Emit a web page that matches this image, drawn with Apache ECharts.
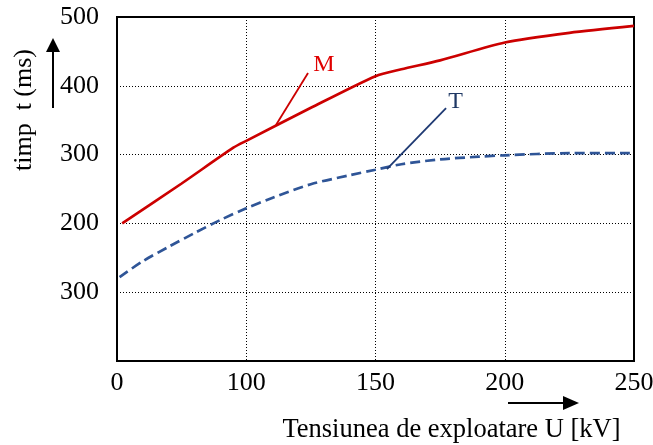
<!DOCTYPE html>
<html><head><meta charset="utf-8">
<script src="https://cdn.jsdelivr.net/npm/echarts@6/dist/echarts.min.js"></script>
<style>html,body{margin:0;padding:0;background:#fff}#c{width:653px;height:445px}</style>
</head><body><div id="c"></div>
<script>
// Data
const xM = [52, 75, 95, 100, 125, 150, 160, 175, 200, 225, 250];
const yM = [200, 258, 310, 320, 368, 414, 424, 437, 463, 477, 487];
const xT = [51, 60, 70, 80, 90, 100, 110, 125, 140, 150, 160, 175, 190, 200, 225, 250];
const yT = [122, 145, 166, 186, 205, 222, 237, 257, 270, 278, 286, 293, 297, 299, 302, 302];
const xTickValues = [50, 100, 150, 200, 250];
const xTickLabels = ['0', '100', '150', '200', '250'];
const yTickValues = [100, 200, 300, 400, 500];
const yTickLabels = ['300', '200', '300', '400', '500'];
const seriesNames = ['M', 'T'];
const leaderM = [[111.5, 343], [123.9, 418.6]];
const leaderT = [[154.4, 279], [177.3, 367.7]];
const labelPosM = [130, 430];
const labelPosT = [181, 377];

const FONT = '"Liberation Serif", "Times New Roman", serif';
const chart = echarts.init(document.getElementById('c'));
const lookup = (vals, labels) => v => { const i = vals.indexOf(v); return i < 0 ? '' : labels[i]; };

chart.setOption({
  animation: false,
  backgroundColor: '#fff',
  grid: { left: 117, right: 19, top: 17, bottom: 84, containLabel: false, outerBoundsMode: 'none',
    show: true, borderColor: '#000', borderWidth: 2, backgroundColor: 'transparent' },
  xAxis: {
    type: 'value', min: 50, max: 250, interval: 50,
    axisLine: { show: true, lineStyle: { color: '#000', width: 2 } },
    axisTick: { show: false },
    axisLabel: { formatter: lookup(xTickValues, xTickLabels), color: '#000', fontFamily: FONT, fontSize: 26, margin: 9 },
    splitLine: { show: true, lineStyle: { color: '#000', type: [1, 2], width: 1 } },
    name: 'Tensiunea de exploatare U [kV]', nameLocation: 'middle', nameGap: 56,
    nameTextStyle: { color: '#000', fontFamily: FONT, fontSize: 26.5, padding: [0, 0, 0, 152] }
  },
  yAxis: {
    type: 'value', min: 0, max: 500, interval: 100,
    axisLine: { show: true, lineStyle: { color: '#000', width: 2 } },
    axisTick: { show: false },
    axisLabel: { formatter: lookup(yTickValues, yTickLabels), color: '#000', fontFamily: FONT, fontSize: 26, margin: 18 },
    splitLine: { show: true, lineStyle: { color: '#000', type: [1, 2], width: 1 } },
    name: 'timp  t (ms)', nameLocation: 'middle', nameGap: 80, nameRotate: 90,
    nameTextStyle: { color: '#000', fontFamily: FONT, fontSize: 26, padding: [0, 0, 0, 158] }
  },
  series: [
    {
      name: seriesNames[0], type: 'line', data: xM.map((x, i) => [x, yM[i]]),
      smooth: 0.25, showSymbol: false, lineStyle: { color: '#CC0000', width: 2.7 }, z: 3,
      markLine: { silent: true, symbol: 'none', label: { show: false },
        lineStyle: { color: '#CC0000', width: 1.8, type: 'solid' },
        data: [[{ coord: leaderM[0] }, { coord: leaderM[1] }]] },
      markPoint: { symbolSize: 0, data: [{ coord: labelPosM, label: { show: true, formatter: seriesNames[0], color: '#E00000', fontFamily: FONT, fontSize: 24 } }] }
    },
    {
      name: seriesNames[1], type: 'line', data: xT.map((x, i) => [x, yT[i]]),
      smooth: 0.3, showSymbol: false, lineStyle: { color: '#2F5597', width: 2.7, type: [10, 5] }, z: 3,
      markLine: { silent: true, symbol: 'none', label: { show: false },
        lineStyle: { color: '#1F3A73', width: 1.8, type: 'solid' },
        data: [[{ coord: leaderT[0] }, { coord: leaderT[1] }]] },
      markPoint: { symbolSize: 0, data: [{ coord: labelPosT, label: { show: true, formatter: seriesNames[1], color: '#1F3864', fontFamily: FONT, fontSize: 24 } }] }
    }
  ],
  graphic: [
    { type: 'line', shape: { x1: 53, y1: 108, x2: 53, y2: 50 }, style: { stroke: '#000', lineWidth: 2 } },
    { type: 'polygon', shape: { points: [[53, 38], [46, 52], [60, 52]] }, style: { fill: '#000' } },
    { type: 'line', shape: { x1: 508, y1: 403, x2: 565, y2: 403 }, style: { stroke: '#000', lineWidth: 2 } },
    { type: 'polygon', shape: { points: [[579, 403], [563, 396], [563, 410]] }, style: { fill: '#000' } }
  ]
});
</script></body></html>
